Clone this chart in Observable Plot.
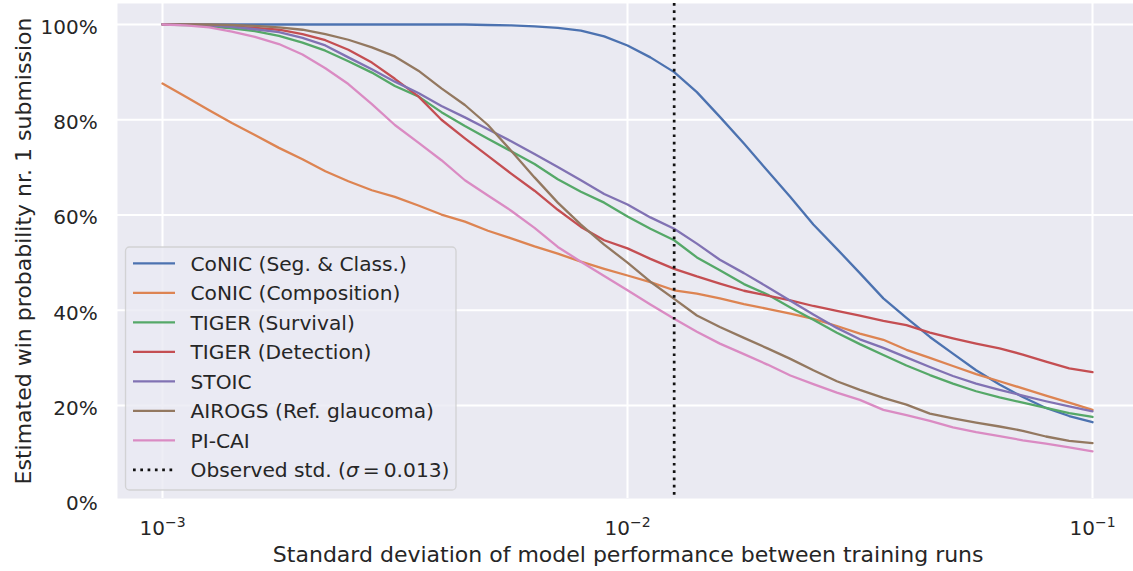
<!DOCTYPE html>
<html>
<head>
<meta charset="utf-8">
<script src="https://cdn.jsdelivr.net/npm/d3@7"></script>
<script src="https://cdn.jsdelivr.net/npm/@observablehq/plot@0.6"></script>
<style>
  body { margin: 0; background: #ffffff; }
  #wrap { position: relative; width: 1133px; height: 571px; font-family: "DejaVu Sans", sans-serif; }
  #legend { position: absolute; left: 0; top: 0; pointer-events: none; }
</style>
</head>
<body>
<div id="wrap"></div>
<script>
// x: standard deviation of model performance between training runs
const stdValues = [0.001, 0.00112, 0.00126, 0.00141, 0.00158, 0.00178, 0.002, 0.00224, 0.00251, 0.00282,
  0.00316, 0.00355, 0.00398, 0.00447, 0.00501, 0.00562, 0.00631, 0.00708, 0.00794, 0.00891,
  0.01, 0.0112, 0.0126, 0.0141, 0.0158, 0.0178, 0.02, 0.0224, 0.0251, 0.0282,
  0.0316, 0.0355, 0.0398, 0.0447, 0.0501, 0.0562, 0.0631, 0.0708, 0.0794, 0.0891, 0.1];

const seriesNames = ["CoNIC (Seg. & Class.)", "CoNIC (Composition)", "TIGER (Survival)", "TIGER (Detection)", "STOIC", "AIROGS (Ref. glaucoma)", "PI-CAI"];
const seriesColors = ["#4c72b0", "#dd8452", "#55a868", "#c44e52", "#8172b3", "#937860", "#da8bc3"];

// estimated win probability (%) of the nr. 1 submission
const conicSeg = [100, 100, 100, 100, 100, 100, 100, 100, 100, 100, 100, 100, 100, 100,
  99.9, 99.8, 99.6, 99.3, 98.7, 97.5, 95.6, 93.1, 90.0, 85.8, 80.6, 75.0, 69.3, 63.8, 58.0, 52.9,
  47.8, 42.5, 38.4, 34.4, 30.9, 27.4, 24.4, 21.8, 19.5, 17.8, 16.5];
const conicComp = [87.6, 84.9, 82.0, 79.3, 76.8, 74.1, 71.7, 69.2, 67.1, 65.2, 63.8, 62.0, 60.1, 58.6, 56.7,
  55.1, 53.4, 51.9, 50.2, 48.7, 47.3, 45.9, 44.2, 43.5, 42.5, 41.3, 40.3, 39.3, 38.2, 36.7,
  35.1, 33.8, 31.7, 30.0, 28.3, 26.6, 25.1, 23.6, 22.1, 20.6, 19.1];
const tigerSurv = [100, 99.9, 99.6, 99.2, 98.6, 97.6, 96.2, 94.5, 92.3, 89.9, 87.1, 84.9, 81.6, 78.7, 76.0,
  73.4, 70.7, 67.5, 64.9, 62.6, 59.7, 57.1, 54.7, 51.1, 48.4, 45.5, 43.3, 40.6, 38.0, 35.3,
  32.9, 30.6, 28.4, 26.4, 24.6, 23.0, 21.7, 20.6, 19.5, 18.4, 17.6];
const tigerDet = [100, 100, 99.8, 99.6, 99.3, 98.9, 98.0, 96.7, 94.7, 92.0, 88.6, 84.9, 80.0, 76.1, 72.4,
  68.7, 65.1, 61.1, 57.5, 54.7, 53.0, 50.8, 48.7, 47.1, 45.6, 44.1, 43.1, 42.1, 40.9, 39.9,
  38.9, 37.8, 36.9, 35.3, 34.1, 33.0, 32.0, 30.7, 29.2, 27.8, 27.0];
const stoic = [100, 100, 99.8, 99.5, 99.0, 98.4, 97.2, 95.6, 93.1, 90.6, 88.0, 85.6, 82.9, 80.5, 78.0,
  75.5, 72.8, 70.1, 67.3, 64.4, 62.2, 59.5, 57.1, 54.0, 50.6, 47.8, 44.9, 42.0, 39.1, 36.3,
  33.9, 32.1, 30.1, 28.1, 26.2, 24.6, 23.3, 22.1, 20.9, 19.8, 18.8];
const airogs = [100, 100, 100, 99.9, 99.7, 99.4, 98.9, 98.0, 96.8, 95.2, 93.3, 90.3, 86.6, 83.1, 78.9,
  73.5, 67.9, 62.6, 58.0, 53.8, 50.0, 46.0, 42.4, 38.9, 36.5, 34.2, 32.0, 29.8, 27.4, 25.1,
  23.3, 21.6, 20.2, 18.3, 17.3, 16.4, 15.6, 14.7, 13.5, 12.6, 12.1];
const picai = [100, 99.8, 99.4, 98.5, 97.4, 95.9, 93.7, 90.8, 87.5, 83.3, 78.9, 75.2, 71.5, 67.3, 64.1,
  60.9, 57.3, 53.3, 50.2, 47.2, 44.2, 41.2, 38.2, 35.5, 33.0, 30.8, 28.6, 26.3, 24.5, 22.7,
  21.2, 19.1, 18.0, 16.8, 15.4, 14.4, 13.6, 12.7, 12.0, 11.2, 10.4];

const seriesValues = [conicSeg, conicComp, tigerSurv, tigerDet, stoic, airogs, picai];

const observedStd = 0.0126;
const observedLabel = "Observed std.";
const observedSigma = "0.013";

const xTicks = [0.001, 0.01, 0.1];
const xTickBase = "10";
const xTickExponents = ["\u22123", "\u22122", "\u22121"];
const yTicks = [0, 20, 40, 60, 80, 100];
const xLabel = "Standard deviation of model performance between training runs";
const yLabel = "Estimated win probability nr. 1 submission";

const rows = [];
seriesValues.forEach((vals, i) => vals.forEach((v, j) => rows.push({series: seriesNames[i], std: stdValues[j], prob: v})));

const ink = "#262626";

const chart = Plot.plot({
  width: 1133,
  height: 571,
  marginLeft: 117,
  marginRight: 0,
  marginTop: 3,
  marginBottom: 73,
  style: {fontFamily: "DejaVu Sans", fontSize: "20px", color: ink, background: "#ffffff", overflow: "visible"},
  x: {type: "log", domain: [0.001, 0.1], range: [162, 1092], label: null},
  y: {domain: [0, 100], range: [500.3, 24], label: null},
  color: {domain: seriesNames, range: seriesColors},
  marks: [
    Plot.frame({fill: "#eaeaf2", stroke: null}),
    Plot.gridX(xTicks, {stroke: "#ffffff", strokeOpacity: 1, strokeWidth: 2}),
    Plot.gridY(yTicks, {stroke: "#ffffff", strokeOpacity: 1, strokeWidth: 2}),
    Plot.axisX(xTicks, {tickSize: 0, tickPadding: 22, label: null, fontSize: 20,
      tickFormat: d => xTickBase + "^" + xTickExponents[xTicks.indexOf(d)]}),
    Plot.axisY(yTicks, {tickSize: 0, tickPadding: 19.7, label: null, dy: 3, fontSize: 20,
      tickFormat: d => d + "%"}),
    Plot.line(rows, {x: "std", y: "prob", z: "series", stroke: "series", strokeWidth: 2.3, strokeLinejoin: "round"}),
    Plot.ruleX([observedStd], {stroke: "#111111", strokeWidth: 2.7, strokeDasharray: "2.7 4.6"}),
    Plot.text([xLabel], {frameAnchor: "bottom", dy: 56, dx: 2.7, fontSize: 22, textAnchor: "middle", lineAnchor: "middle", fill: ink}),
    Plot.text([yLabel], {frameAnchor: "left", dx: -94, rotate: -90, fontSize: 22, textAnchor: "middle", lineAnchor: "middle", fill: ink})
  ]
});

const wrap = document.getElementById("wrap");
wrap.appendChild(chart);

// render the x tick labels as 10 with a superscript exponent
d3.select(chart).selectAll("text").each(function() {
  const s = this.textContent;
  if (s.startsWith(xTickBase + "^")) {
    const exp = s.slice(xTickBase.length + 1);
    const sel = d3.select(this);
    sel.text(null);
    sel.append("tspan").text(xTickBase);
    sel.append("tspan").attr("font-size", "0.7em").attr("dy", "-0.55em").text(exp);
  }
});

// legend overlay
const lg = d3.select(wrap).append("svg")
  .attr("id", "legend")
  .attr("width", 1133).attr("height", 571);

lg.append("rect")
  .attr("x", 125.5).attr("y", 247).attr("width", 330.5).attr("height", 243)
  .attr("rx", 4).attr("ry", 4)
  .attr("fill", "#eaeaf2").attr("fill-opacity", 0.8)
  .attr("stroke", "#cccccc").attr("stroke-opacity", 0.8).attr("stroke-width", 1.3);

const rowY = i => 263.3 + i * 29.5;
seriesNames.forEach((name, i) => {
  lg.append("line").attr("x1", 133).attr("x2", 175).attr("y1", rowY(i)).attr("y2", rowY(i))
    .attr("stroke", seriesColors[i]).attr("stroke-width", 2.3);
  lg.append("text").attr("x", 190.5).attr("y", rowY(i)).attr("dy", "0.36em")
    .attr("font-family", "DejaVu Sans").attr("font-size", 20.2).attr("fill", ink).text(name);
});
const iObs = seriesNames.length;
lg.append("line").attr("x1", 133).attr("x2", 175).attr("y1", rowY(iObs)).attr("y2", rowY(iObs))
  .attr("stroke", "#111111").attr("stroke-width", 2.7).attr("stroke-dasharray", "2.7 4.6");
const t = lg.append("text").attr("x", 190.5).attr("y", rowY(iObs)).attr("dy", "0.36em")
  .attr("font-family", "DejaVu Sans").attr("font-size", 20.2).attr("fill", ink);
t.append("tspan").text(observedLabel + " (");
t.append("tspan").attr("font-style", "italic").text("\u03C3");
t.append("tspan").text("\u2009=\u2009" + observedSigma + ")");
</script>
</body>
</html>
